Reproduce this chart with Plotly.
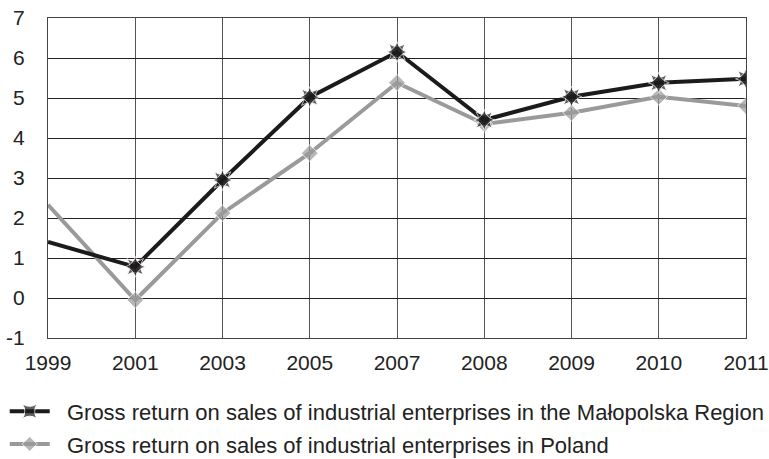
import plotly.graph_objects as go

years = ["1999", "2001", "2003", "2005", "2007", "2008", "2009", "2010", "2011"]
malopolska = [1.4, 0.78, 2.95, 5.02, 6.15, 4.45, 5.03, 5.38, 5.48]
poland = [2.33, -0.05, 2.12, 3.62, 5.38, 4.35, 4.63, 5.03, 4.8]
y_ticks = [-1, 0, 1, 2, 3, 4, 5, 6, 7]
y_ticktext = ["-1", "0", "1", "2", "3", "4", "5", "6", "7"]
name_malo = "Gross return on sales of industrial enterprises in the Małopolska Region"
name_pol = "Gross return on sales of industrial enterprises in Poland"

FONT = "Liberation Sans, Arial, sans-serif"
BLACK = "#1c1a1a"
GRAY = "#9a9a9a"
PAD = "\u00a0\u00a0"  # extra gap between legend symbol and text

# first point (1999) sits on the frame edge with no visible marker
star_sizes = [0] + [15] * (len(years) - 1)
diamond_sizes = [0] + [13] * (len(years) - 1)

fig = go.Figure()
fig.add_trace(go.Scatter(
    x=years, y=poland, mode="lines+markers", name=PAD + name_pol,
    line=dict(color=GRAY, width=4),
    marker=dict(symbol="diamond", size=diamond_sizes, color=GRAY),
    legend="legend2",
))
fig.add_trace(go.Scatter(
    x=years, y=malopolska, mode="lines+markers", name=PAD + name_malo,
    line=dict(color=BLACK, width=4),
    marker=dict(symbol="star-square", size=star_sizes, color=BLACK),
    legend="legend",
))
fig.add_trace(go.Scatter(
    x=years, y=malopolska, mode="markers", showlegend=False,
    marker=dict(symbol="star-diamond", size=star_sizes, color=BLACK),
    hoverinfo="skip",
))

legend_common = dict(
    xanchor="left", yanchor="top",
    font=dict(family=FONT, size=22, color="#222"),
    bgcolor="rgba(0,0,0,0)", itemwidth=40,
)
fig.update_layout(
    width=769, height=459,
    margin=dict(l=48, r=23, t=18, b=121, autoexpand=False),
    paper_bgcolor="white", plot_bgcolor="white",
    font=dict(family=FONT, size=21, color="#222"),
    legend=dict(x=-0.062, y=-0.164, **legend_common),
    legend2=dict(x=-0.062, y=-0.266, **legend_common),
)
fig.update_xaxes(
    type="category", range=[0, 8],
    showgrid=True, gridcolor="#555", gridwidth=1,
    showline=True, linecolor="#444", linewidth=1, mirror=True,
    ticks="", tickfont=dict(size=21), ticklabelstandoff=6,
    zeroline=False,
)
fig.update_yaxes(
    range=[-1, 7], tickvals=y_ticks, ticktext=y_ticktext,
    showgrid=True, gridcolor="#222", gridwidth=1,
    showline=True, linecolor="#444", linewidth=1, mirror=True,
    ticks="", tickfont=dict(size=21), ticklabelstandoff=18,
    zeroline=False,
)

fig.write_html("out.html")
